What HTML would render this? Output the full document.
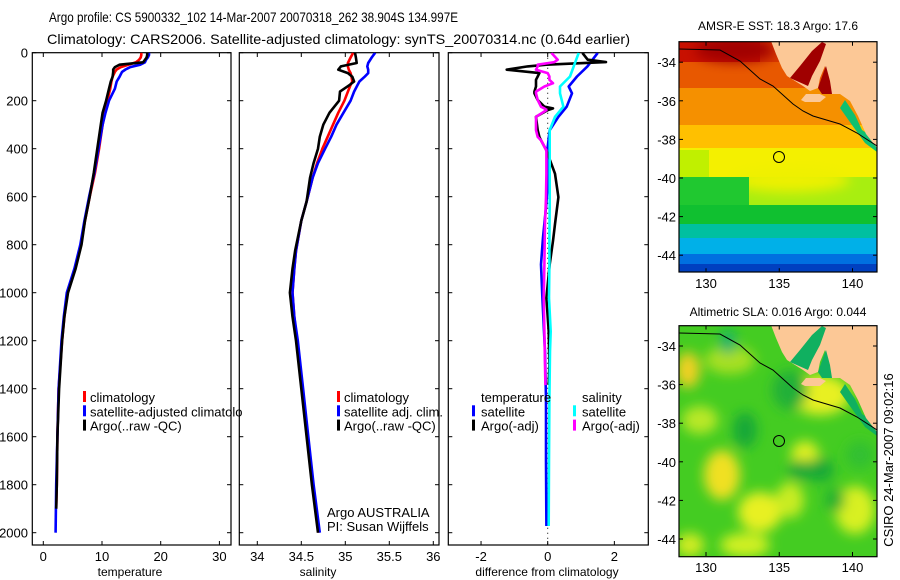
<!DOCTYPE html>
<html><head><meta charset="utf-8"><style>
html,body{margin:0;padding:0;background:#fff;}
svg{display:block;font-family:"Liberation Sans",sans-serif;}
</style></head><body>
<svg id="fig" width="900" height="580" viewBox="0 0 900 580" xmlns="http://www.w3.org/2000/svg">
<defs>
<clipPath id="cm1"><rect x="679" y="41.7" width="198" height="230.3"/></clipPath>
<clipPath id="cm2"><rect x="679" y="325.7" width="198" height="231"/></clipPath>
<clipPath id="cp1"><rect x="32.3" y="52.7" width="198.7" height="492.3"/></clipPath>
<clipPath id="cp2"><rect x="239.3" y="52.7" width="199.7" height="492.3"/></clipPath>
<clipPath id="cp3"><rect x="448.3" y="52.7" width="200" height="492.3"/></clipPath>
<clipPath id="cleg1"><rect x="32" y="380" width="210" height="60"/></clipPath>
<filter id="bl" x="-50%" y="-50%" width="200%" height="200%"><feGaussianBlur stdDeviation="6"/></filter>
</defs>
<text x="49" y="22" font-size="14" textLength="409" lengthAdjust="spacingAndGlyphs">Argo profile: CS 5900332_102 14-Mar-2007 20070318_262 38.904S 134.997E</text>
<text x="47" y="44" font-size="14" textLength="583" lengthAdjust="spacingAndGlyphs">Climatology: CARS2006. Satellite-adjusted climatology: synTS_20070314.nc (0.64d earlier)</text>

<!-- Upper map: SST -->
<g clip-path="url(#cm1)">
<rect x="679" y="41" width="200" height="232" fill="#ffe000"/>
<rect x="679" y="41" width="200" height="25" fill="#c81000"/>
<rect x="760" y="41" width="120" height="25" fill="#d83800"/>
<rect x="679" y="62" width="200" height="30" fill="#e85800"/>
<rect x="679" y="88" width="200" height="40" fill="#f59000"/>
<rect x="679" y="125" width="200" height="25" fill="#ffc000"/>
<rect x="679" y="148" width="200" height="30" fill="#f4f000"/>
<rect x="679" y="150" width="30" height="30" fill="#c0f000"/>
<rect x="679" y="177" width="200" height="30" fill="#a8ee10"/>
<ellipse cx="790" cy="180" rx="60" ry="12" fill="#eef000" filter="url(#bl)"/>
<rect x="679" y="177" width="70" height="35" fill="#20c830"/>
<rect x="679" y="205" width="200" height="22" fill="#10c030"/>
<rect x="679" y="224" width="200" height="16" fill="#00c0a0"/>
<rect x="679" y="238" width="200" height="18" fill="#00b0e8"/>
<rect x="679" y="254" width="200" height="20" fill="#0070e0"/>
<rect x="679" y="264" width="200" height="10" fill="#0040c0"/>
<ellipse cx="735" cy="50" rx="40" ry="12" fill="#a00000" filter="url(#bl)"/>
<polygon points="845,100 855,115 862,130 877,140 877,152 865,143 852,125 840,108" fill="#10c070"/>
<polygon points="771,41 877,41 877,148 866,134 858,116 850,101 840,94 830,94 826,76 825,66 820,78 818,88 810,91 803,86 795,81 787,76 782,68 776,54" fill="#fcc896"/>
<polygon points="790,78 800,66 812,51 822,42 826,44 820,61 812,76 808,86" fill="#a00000"/>
<polygon points="818,88 824,71 826,66 830,81 832,94 822,94" fill="#a00000"/>
<polygon points="801,100 806,94 820,94 826,97 820,102 805,102" fill="#fcc896"/>
<polyline points="679,49 720,50 740,61 760,79 773,86 793,104 803,111 813,116 840,124 857,133 877,146" fill="none" stroke="#000" stroke-width="1"/>
<circle cx="779" cy="157" r="5.5" fill="none" stroke="#000" stroke-width="1"/>
</g>
<rect x="679" y="41.7" width="198" height="230.3" fill="none" stroke="#000" stroke-width="1.2"/>
<text x="778" y="30" font-size="12" text-anchor="middle">AMSR-E SST: 18.3 Argo: 17.6</text>

<!-- Lower map: SLA -->
<g clip-path="url(#cm2)">
<rect x="679" y="325" width="200" height="233" fill="#44cc22"/>
<g filter="url(#bl)">
<ellipse cx="688" cy="370" rx="12" ry="18" fill="#f0d020"/>
<ellipse cx="730" cy="360" rx="25" ry="14" fill="#a8e020"/>
<ellipse cx="722" cy="475" rx="18" ry="25" fill="#f0e020"/>
<ellipse cx="700" cy="420" rx="18" ry="14" fill="#b8e828"/>
<ellipse cx="760" cy="512" rx="22" ry="20" fill="#e8f020"/>
<ellipse cx="745" cy="545" rx="25" ry="12" fill="#d0f020"/>
<ellipse cx="805" cy="455" rx="14" ry="14" fill="#e0f020"/>
<ellipse cx="820" cy="395" rx="30" ry="20" fill="#e8f020"/>
<ellipse cx="855" cy="510" rx="20" ry="24" fill="#d8f020"/>
<ellipse cx="790" cy="500" rx="14" ry="18" fill="#c8ec20"/>
<ellipse cx="690" cy="545" rx="14" ry="12" fill="#d0ec20"/>
<ellipse cx="745" cy="430" rx="12" ry="18" fill="#18a838"/>
<ellipse cx="728" cy="342" rx="8" ry="12" fill="#10b070"/>
<ellipse cx="800" cy="470" rx="12" ry="10" fill="#18a838"/>
<ellipse cx="820" cy="470" rx="14" ry="12" fill="#18a838"/>
<ellipse cx="835" cy="500" rx="10" ry="12" fill="#20b030"/>
<ellipse cx="790" cy="390" rx="18" ry="20" fill="#20b038"/>
<ellipse cx="860" cy="455" rx="14" ry="14" fill="#30c030"/>
</g>
<polygon points="845,384 855,399 862,414 877,424 877,436 865,427 852,409 840,392" fill="#10b060"/>
<polygon points="771,325 877,325 877,432 866,418 858,400 850,385 840,378 830,378 826,360 825,350 820,362 818,372 810,375 803,370 795,365 787,360 782,352 776,338" fill="#fcc896"/>
<polygon points="790,362 800,350 812,335 822,326 826,328 820,345 812,360 808,370" fill="#10b060"/>
<polygon points="818,372 824,355 826,350 830,365 832,378 822,378" fill="#10b060"/>
<polygon points="801,384 806,378 820,378 826,381 820,386 805,386" fill="#fcc896"/>
<polyline points="679,333 720,334 740,345 760,363 773,370 793,388 803,395 813,400 840,408 857,417 877,430" fill="none" stroke="#000" stroke-width="1"/>
<circle cx="779" cy="441" r="5.5" fill="none" stroke="#000" stroke-width="1"/>
</g>
<rect x="679" y="325.7" width="198" height="231" fill="none" stroke="#000" stroke-width="1.2"/>
<text x="778" y="316" font-size="12" text-anchor="middle">Altimetric SLA: 0.016 Argo: 0.044</text>
<text transform="translate(893,460) rotate(-90)" font-size="13" text-anchor="middle">CSIRO 24-Mar-2007 09:02:16</text>
<g id="maptk"></g>

<g id="panels"></g>
</svg>
<script>
// ---------- Data ----------
const tDepth = [0,10,20,30,40,50,60,70,80,100,120,150,200,250,300,400,500,600,700,800,900,1000,1100,1200,1400,1600,1800,1900];
const tClim  = [16.7,16.7,16.6,16.3,15.8,14.5,13.2,12.5,12.2,11.8,11.6,11.4,10.9,10.5,10.1,9.5,8.8,7.9,7.1,6.4,5.4,4.1,3.6,3.2,2.6,2.4,2.3,2.2];
const tSatDepth = [0,10,20,30,40,50,60,70,80,100,120,150,200,250,300,400,500,600,700,800,900,1000,1100,1200,1400,1600,1800,2000];
const tSat   = [18.0,18.0,17.8,17.5,17.3,16.5,14.8,14.0,13.4,13.0,12.5,12.2,11.2,10.6,10.1,9.4,8.7,7.8,7.0,6.3,5.3,4.0,3.5,3.1,2.6,2.4,2.2,2.1];
const tArgo  = [17.7,17.7,17.6,17.3,17.0,13.0,12.2,11.9,11.9,11.8,11.5,11.2,10.7,10.1,9.8,9.2,8.6,7.9,7.1,6.5,5.5,4.2,3.6,3.2,2.7,2.4,2.3,2.2];

const sDepth = [0,20,43,57,71,85,100,120,134,162,200,250,300,350,400,460,520,620,700,826,900,1000,1100,1200,1400,1600,1800,2000];
const sClim  = [35.09,35.06,35.03,35.03,35.04,35.06,35.07,35.08,35.06,35.03,34.99,34.92,34.86,34.80,34.74,34.68,34.63,34.56,34.50,34.44,34.42,34.40,34.42,34.45,34.51,34.57,34.63,34.70];
const sSat   = [35.34,35.30,35.26,35.25,35.26,35.26,35.22,35.16,35.14,35.10,35.06,34.98,34.90,34.84,34.77,34.69,34.63,34.56,34.50,34.44,34.42,34.40,34.42,34.46,34.52,34.58,34.64,34.71];
const sArgo  = [35.11,35.12,35.13,34.95,34.92,35.03,35.08,35.10,35.05,34.94,34.93,34.82,34.75,34.71,34.69,34.64,34.60,34.56,34.50,34.43,34.40,34.37,34.40,34.44,34.50,34.56,34.62,34.69];

const dDepthA = [1,29,39,50,57,71,85,99,113,127,141,162,169,197,225,232,239,267,323,351,365,407,504,602,714,784,882,1022,1161,1300,1385];
const dTempArgo = [1.04,1.2,1.75,-0.04,-0.6,-1.23,-0.25,-0.3,-0.35,-0.35,-0.35,-0.4,-0.4,-0.3,-0.1,0.16,0.0,-0.35,-0.3,-0.25,-0.2,-0.04,0.22,0.32,0.22,0.16,0.06,-0.04,0.03,0.05,0.03];
const dSalArgo  = [0.11,0.3,0.2,-0.3,-0.3,-0.35,0.0,0.05,0.05,0.16,-0.1,-0.35,-0.35,-0.3,-0.2,-0.1,-0.04,-0.35,-0.35,-0.3,-0.2,-0.04,-0.04,-0.05,-0.08,-0.09,-0.1,-0.12,-0.1,-0.08,-0.07];
const dDepthS = [1,57,99,141,169,225,267,323,393,504,644,770,882,1022,1161,1245,1441,1700,1972];
const dTempSat = [1.5,1.19,0.88,0.63,0.73,0.57,0.32,0.06,0.0,0.03,-0.05,-0.14,-0.2,-0.16,-0.11,-0.08,-0.05,-0.05,-0.04];
const dSalSat  = [0.93,0.78,0.67,0.37,0.37,0.47,0.22,0.06,0.06,0.06,0.06,0.05,0.05,0.04,0.09,0.07,0.05,0.04,0.03];

const depthTicks = [0,200,400,600,800,1000,1200,1400,1600,1800,2000];
const tTicks = [0,10,20,30];
const sTicks = [34,34.5,35,35.5,36];
const sTickLabels = ["34","34.5","35","35.5","36"];
const dTicks = [-2,0,2];
const latTicks = [-34,-36,-38,-40,-42,-44];
const lonTicks = [130,135,140];

// ---------- Axes ----------
const NS = 'http://www.w3.org/2000/svg';
const root = document.getElementById('panels');
const yD = d => 52.7 + 0.24*d;
const xT = v => 43.3 + 5.87*v;
const xS = v => 257.3 + 88*(v-34);
const xDf = v => 547.7 + 33.33*v;
function mk(tag, attrs, parent){ const e=document.createElementNS(NS,tag); for(const k in attrs) e.setAttribute(k,attrs[k]); (parent||root).appendChild(e); return e; }
const panels = [
 {name:'temperature-panel', x0:32.3, x1:231, clip:'cp1', xs:xT, ticks:tTicks, labels:tTicks.map(String), xlabel:'temperature', xl:130},
 {name:'salinity-panel', x0:239.3, x1:439, clip:'cp2', xs:xS, ticks:sTicks, labels:sTickLabels, xlabel:'salinity', xl:318},
 {name:'difference-panel', x0:448.3, x1:648.3, clip:'cp3', xs:xDf, ticks:dTicks, labels:dTicks.map(String), xlabel:'difference from climatology', xl:547}
];
panels.forEach((p,i)=>{
  const g = mk('g',{});
  
  
  const fr = mk('rect',{x:p.x0,y:52.7,width:p.x1-p.x0,height:492.3,fill:'none',stroke:'#000','stroke-width':1.2},g);
  
  
  depthTicks.forEach(d=>{
    mk('line',{x1:p.x0,x2:p.x0+4,y1:yD(d),y2:yD(d),stroke:'#000'},g);
    mk('line',{x1:p.x1-4,x2:p.x1,y1:yD(d),y2:yD(d),stroke:'#000'},g);
    if(i===0){
      const t = mk('text',{x:28,y:yD(d)+5,'font-size':13,'text-anchor':'end'},g);
      t.textContent = String(d);
      
      
    }
  });
  p.ticks.forEach((v,j)=>{
    mk('line',{x1:p.xs(v),x2:p.xs(v),y1:52.7,y2:57,stroke:'#000'},g);
    mk('line',{x1:p.xs(v),x2:p.xs(v),y1:541,y2:545,stroke:'#000'},g);
    const t = mk('text',{x:p.xs(v),y:561,'font-size':13,'text-anchor':'middle'},g);
    t.textContent = p.labels[j];
    
    
  });
  const xl = mk('text',{x:p.xl,y:576,'font-size':12,'text-anchor':'middle'},g);
  xl.textContent = p.xlabel;
  
  
});

function line(depths, vals, xs, color, clip, name, w){
  const pts = [];
  for(let k=0;k<vals.length;k++){ pts.push(xs(vals[k]).toFixed(1)+','+yD(depths[k]).toFixed(1)); }
  const pl = mk('polyline',{points:pts.join(' '),fill:'none',stroke:color,'stroke-width':w||2.6,'clip-path':'url(#'+clip+')','stroke-linejoin':'round'});
  
  
}
// temperature
line(tDepth,tClim,xT,'#ff0000','cp1','temperature-climatology-line');
line(tSatDepth,tSat,xT,'#0000ff','cp1','temperature-satellite-line');
line(tDepth,tArgo,xT,'#000000','cp1','temperature-argo-line');
// salinity
line(sDepth,sClim,xS,'#ff0000','cp2','salinity-climatology-line');
line(sDepth,sSat,xS,'#0000ff','cp2','salinity-satellite-line');
line(sDepth,sArgo,xS,'#000000','cp2','salinity-argo-line');
// difference
const zl = mk('line',{x1:xDf(0),x2:xDf(0),y1:52.7,y2:545,stroke:'#000','stroke-dasharray':'1,4'});


line(dDepthS,dTempSat,xDf,'#0000ff','cp3','temperature-satellite-diff-line');
line(dDepthA,dTempArgo,xDf,'#000000','cp3','temperature-argo-diff-line');
line(dDepthS,dSalSat,xDf,'#00ffff','cp3','salinity-satellite-diff-line');
line(dDepthA,dSalArgo,xDf,'#ff00ff','cp3','salinity-argo-diff-line');

// legends
function legend(items, bx, tx, y0, name, clip){
  const g = mk('g',clip?{'clip-path':'url(#'+clip+')'}:{});
  
  
  items.forEach((it,k)=>{
    const y = y0 + k*14.3;
    if(it[1]) mk('rect',{x:bx,y:y-11,width:3,height:11,fill:it[1]},g);
    const t = mk('text',{x:tx,y:y,'font-size':13},g);
    t.textContent = it[0];
    
    
  });
}
legend([['climatology','#ff0000'],['satellite-adjusted climatology','#0000ff'],['Argo(..raw -QC)','#000000']],83,90,402,'temperature-legend','cleg1');
legend([['climatology','#ff0000'],['satellite adj. clim.','#0000ff'],['Argo(..raw -QC)','#000000']],337,344,402,'salinity-legend');
legend([['temperature',null],['satellite','#0000ff'],['Argo(-adj)','#000000']],472,481,402,'diff-temperature-legend');
legend([['salinity',null],['satellite','#00ffff'],['Argo(-adj)','#ff00ff']],573,582,402,'diff-salinity-legend');
const pi1 = mk('text',{x:327,y:517,'font-size':13}); pi1.textContent='Argo AUSTRALIA';


const pi2 = mk('text',{x:327,y:531,'font-size':13}); pi2.textContent='PI: Susan Wijffels';



// map ticks
const mt = document.getElementById('maptk');
const xLon = v => 706 + 14.65*(v-130);
[[62.2,283],[346,567]].forEach(([y34,ylab])=>{
  const top = y34 - 20.5, bot = top + 230.5;
  latTicks.forEach(v=>{
    const y = y34 + 19.3*(-34 - v);
    mk('line',{x1:679,x2:683,y1:y,y2:y,stroke:'#000'},mt);
    mk('line',{x1:873,x2:877,y1:y,y2:y,stroke:'#000'},mt);
    const t = mk('text',{x:676,y:y+5,'font-size':13,'text-anchor':'end'},mt);
    t.textContent = String(v);
    
    
  });
  lonTicks.forEach(v=>{
    mk('line',{x1:xLon(v),x2:xLon(v),y1:top,y2:top+4,stroke:'#000'},mt);
    mk('line',{x1:xLon(v),x2:xLon(v),y1:bot-4,y2:bot,stroke:'#000'},mt);
    const t = mk('text',{x:xLon(v),y:ylab+5,'font-size':13,'text-anchor':'middle'},mt);
    t.textContent = String(v);
    
    
  });
});
</script>
</body></html>
